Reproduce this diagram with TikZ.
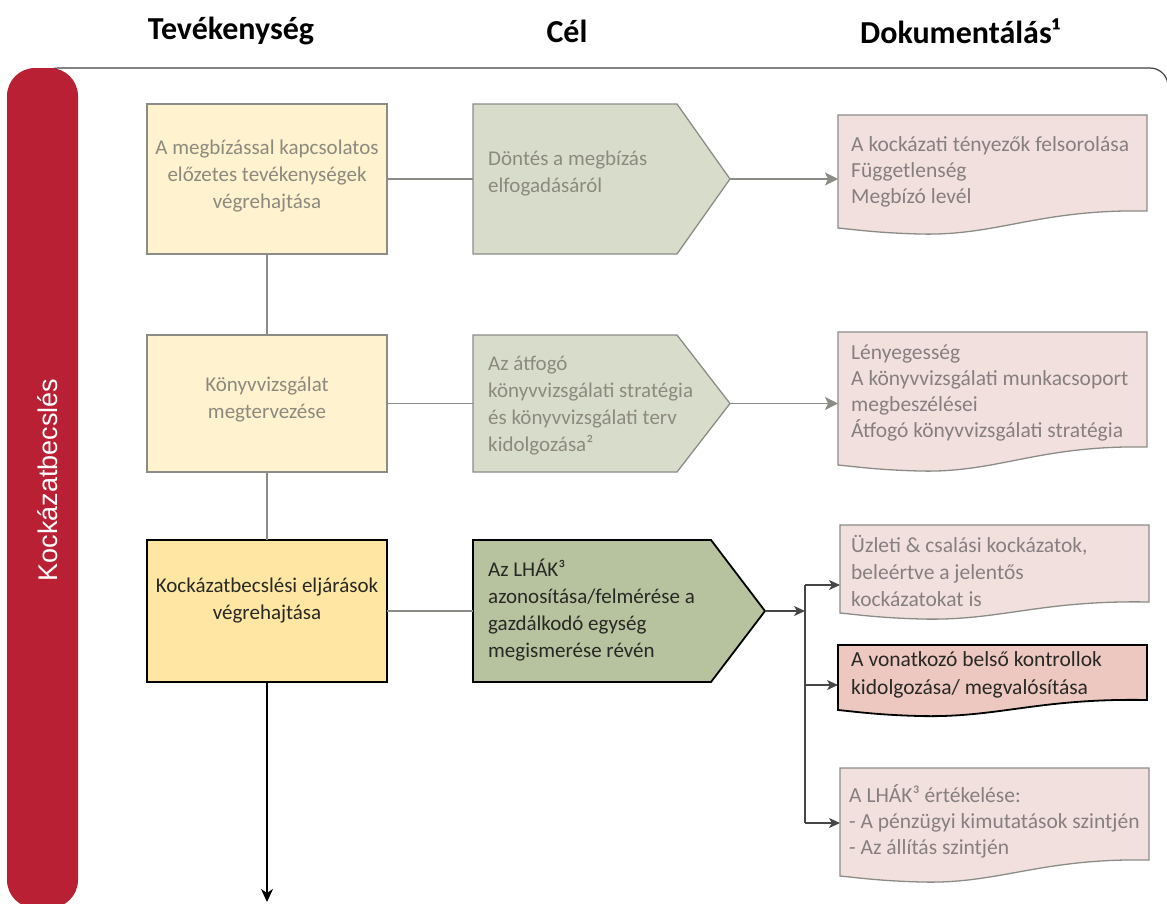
\documentclass[tikz,border=0pt]{standalone}
\usepackage{fontspec}
\setmainfont{Carlito}
\newfontfamily\lanefont{Liberation Sans}
\usetikzlibrary{arrows.meta,calc}

\definecolor{lanered}{RGB}{186,32,52}
\definecolor{frame}{RGB}{64,64,64}
\definecolor{actfill}{RGB}{255,242,206}
\definecolor{actfillhi}{RGB}{255,231,163}
\definecolor{aimfill}{RGB}{216,221,203}
\definecolor{aimfillhi}{RGB}{183,194,159}
\definecolor{docfill}{RGB}{242,224,223}
\definecolor{docfillhi}{RGB}{237,200,192}
\definecolor{softline}{RGB}{140,140,135}
\definecolor{softtext}{RGB}{140,138,126}
\definecolor{doctext}{RGB}{135,127,127}
\definecolor{hardtext}{RGB}{40,40,36}
\definecolor{busline}{RGB}{70,70,70}

% document shape with a wavy lower edge, drawn around an empty node
\newcommand{\docoutline}[3]{%
  \draw[#3] (#1.north west) -- (#1.north east) -- ($(#1.south west)+(309,-#2)$)
    .. controls ($(#1.south west)+(200,-#2-2)$) and ($(#1.south west)+(160,8)$) .. ($(#1.south west)+(82,6)$)
    .. controls ($(#1.south west)+(42,5)$) and ($(#1.south west)+(20,2)$) .. (#1.south west) -- cycle;}
% pentagon pointing right, drawn around an empty node and its tip
\newcommand{\aimoutline}[2]{%
  \draw[#2] (#1.north west) -- (#1.north east) -- (#1tip) -- (#1.south east) -- (#1.south west) -- cycle;}

\begin{document}
\begin{tikzpicture}[x=1pt,y=-1pt,
  shapebox/.style={rectangle,anchor=north west,inner sep=0pt,outer sep=0pt},
  head/.style={font=\fontsize{32}{38}\selectfont\bfseries,text=black},
  body/.style={font=\fontsize{21}{27}\selectfont,inner sep=0pt},
  doctxt/.style={font=\fontsize{21.5}{26}\selectfont,inner sep=0pt,align=left,anchor=west},
  actbox/.style={shapebox,draw=softline,fill=actfill,line width=1.3pt,minimum width=240pt},
  softarrow/.style={draw=softline,line width=1.4pt,-{Stealth[length=13pt,width=13pt,inset=3pt]}},
  softlink/.style={draw=softline,line width=1.3pt},
  busarrow/.style={draw=busline,line width=1.3pt,-{Stealth[length=11pt,width=10pt,inset=3pt]}},
]
\useasboundingbox (0,0) rectangle (1167,903);
\clip (0,0) rectangle (1167,903);

% column headings
\node[head] (h1) at (231,31) {Tevékenység};
\node[head] (h2) at (567,31) {Cél};
\node[head] (h3) at (960,31) {Dokumentálás¹};

% swimlane frame and its red label bar
\draw[frame,line width=1.2pt,rounded corners=18pt] (40,68) rectangle (1168,918);
\node[shapebox,fill=lanered,rounded corners=28pt,minimum width=71pt,minimum height=840pt] (lane) at (7,68) {};
\node[rotate=90,text=white,font=\lanefont\fontsize{27}{32}\selectfont] (lanet) at ($(lane.center)+(5,-8)$) {Kockázatbecslés};

% activity boxes
\node[actbox,minimum height=150pt] (y1) at (147,104) {};
\node[actbox,minimum height=137pt] (y2) at (147,335) {};
\node[actbox,fill=actfillhi,draw=black,line width=1.8pt,minimum height=142pt] (y3) at (147,540) {};

% goal pentagons
\node[shapebox,minimum width=204pt,minimum height=150pt] (g1) at (473,104) {};
\node[shapebox,minimum width=204pt,minimum height=137pt] (g2) at (473,335) {};
\node[shapebox,minimum width=238pt,minimum height=142pt] (g3) at (473,540) {};
\coordinate (g1tip) at ($(g1.east)+(53,0)$);
\coordinate (g2tip) at ($(g2.east)+(53,0)$);
\coordinate (g3tip) at ($(g3.east)+(54,0)$);
\aimoutline{g1}{draw=softline,fill=aimfill,line width=1.3pt}
\aimoutline{g2}{draw=softline,fill=aimfill,line width=1.3pt}
\aimoutline{g3}{draw=black,fill=aimfillhi,line width=1.8pt}

% documentation shapes
\node[shapebox,minimum width=309pt,minimum height=113pt] (d1) at (838,115) {};
\node[shapebox,minimum width=309pt,minimum height=133pt] (d2) at (838,332) {};
\node[shapebox,minimum width=309pt,minimum height=88pt] (d3) at (840,525) {};
\node[shapebox,minimum width=309pt,minimum height=65pt] (d4) at (838,645) {};
\node[shapebox,minimum width=309pt,minimum height=108pt] (d5) at (840,768) {};
\docoutline{d1}{17}{draw=softline,fill=docfill,line width=1.3pt}
\docoutline{d2}{18}{draw=softline,fill=docfill,line width=1.3pt}
\docoutline{d3}{11}{draw=softline,fill=docfill,line width=1.3pt}
\docoutline{d4}{10}{draw=black,fill=docfillhi,line width=1.8pt}
\docoutline{d5}{16}{draw=softline,fill=docfill,line width=1.3pt}

% texts
\node[body,text=softtext,align=center] (y1t) at ($(y1.center)+(0,-3)$) {A megbízással kapcsolatos\\előzetes tevékenységek\\végrehajtása};
\node[body,text=softtext,align=center] (y2t) at ($(y2.center)+(0,-4)$) {Könyvvizsgálat\\megtervezése};
\node[body,text=hardtext,align=center] (y3t) at ($(y3.center)+(0,-10)$) {Kockázatbecslési eljárások\\végrehajtása};

\node[body,text=softtext,align=left,anchor=west] (g1t) at ($(g1.west)+(15,-5)$) {Döntés a megbízás\\elfogadásáról};
\node[body,text=softtext,align=left,anchor=west] (g2t) at ($(g2.west)+(15,2)$) {Az átfogó\\könyvvizsgálati stratégia\\és könyvvizsgálati terv\\kidolgozása²};
\node[body,text=hardtext,align=left,anchor=west] (g3t) at ($(g3.west)+(15,-1)$) {Az LHÁK³\\azonosítása/felmérése a\\gazdálkodó egység\\megismerése révén};

\node[doctxt,text=doctext] (d1t) at ($(d1.west)+(13,0)$) {A kockázati tényezők felsorolása\\Függetlenség\\Megbízó levél};
\node[doctxt,text=doctext] (d2t) at ($(d2.west)+(13,-6)$) {Lényegesség\\A könyvvizsgálati munkacsoport\\megbeszélései\\Átfogó könyvvizsgálati stratégia};
\node[doctxt,text=doctext,font=\fontsize{21.5}{27}\selectfont] (d3t) at ($(d3.west)+(11,2)$) {Üzleti \& csalási kockázatok,\\beleértve a jelentős\\kockázatokat is};
\node[doctxt,text=hardtext,font=\fontsize{21.5}{28}\selectfont] (d4t) at ($(d4.west)+(13,-3)$) {A vonatkozó belső kontrollok\\kidolgozása/ megvalósítása};
\node[doctxt,text=doctext] (d5t) at ($(d5.west)+(9,-1)$) {A LHÁK³ értékelése:\\- A pénzügyi kimutatások szintjén\\- Az állítás szintjén};

% connectors
\draw[softlink] (y1.east) -- (g1.west);
\draw[softlink] (y2.east) -- (g2.west);
\draw[softlink] (y3.east) -- (g3.west);
\draw[softlink] (y1.south) -- (y2.north);
\draw[softlink] (y2.south) -- (y3.north);
\draw[softarrow] (g1tip) -- (g1tip -| d1.west);
\draw[softarrow] (g2tip) -- (g2tip -| d2.west);

\coordinate (bus) at (805,611);
\coordinate (busT) at (805,585);
\coordinate (busM) at (805,685);
\coordinate (busB) at (805,823);
\draw[busarrow] (g3tip) -- (bus);
\draw[draw=busline,line width=1.3pt] (busT) -- (busB);
\draw[busarrow] (busT) -- (busT -| d3.west);
\draw[busarrow] (busM) -- (busM -| d4.west);
\draw[busarrow] (busB) -- (busB -| d5.west);

\coordinate (down) at (266,902);
\draw[black,line width=1.6pt,-{Stealth[length=13pt,width=12pt,inset=4pt]}] (y3.south) -- (y3.south |- down);
\end{tikzpicture}
\end{document}
